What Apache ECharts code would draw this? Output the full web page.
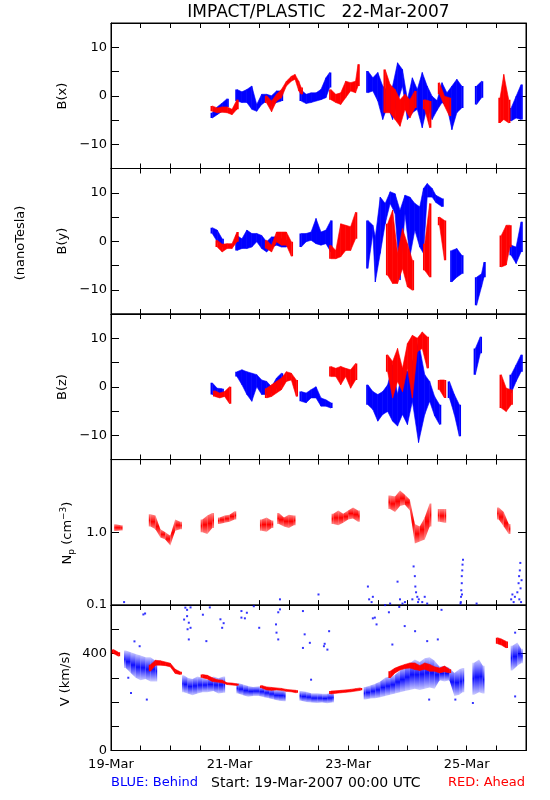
<!DOCTYPE html>
<html>
<head>
<meta charset="utf-8">
<script src="https://cdn.jsdelivr.net/npm/echarts/dist/echarts.min.js"></script>
<style>html,body{margin:0;padding:0;background:#fff;}#c{width:550px;height:800px;}</style>
</head>
<body>
<div id="c"></div>
<script>
// ---------- DATA (hours since 19-Mar-2007 00:00 UTC) ----------
// range items: [hour, low, high]
const xLabelHours = [0, 48, 96, 144];
const xLabelText = ['19-Mar', '21-Mar', '23-Mar', '25-Mar'];
const bTickLabels = [-10, 0, 10];
const vTickLabels = [0, 400];

const bxBlue = [
[41,-4.6,-3.5],[43,-3.9,-2.3],[45,-3.2,-1.5],[47,-2.3,-0.6],
[51,-1.1,1.3],[53,-1.4,0.8],[55,-1.4,1.3],[57,-2.8,2.0],[59,-3.2,-1.8],[61,-1.8,0.3],[63,-1.1,0.3],[65,-2.0,0.0],[67,-1.4,1.0],[69,-1.1,1.0],
[77,-1.1,1.2],[79,-1.6,0.3],[81,-1.4,0.6],[83,-1.1,0.6],[85,-0.8,1.3],[87,-0.4,3.7],[88.5,1.7,4.8],
[104,0.6,5.1],[106,1.0,3.7],[108,-1.1,4.8],[110,-4.9,2.0],[112,-2.1,1.0],[114,-4.9,2.0],[116,-1.4,6.8],[118,2.0,5.4],[120,-4.9,-0.8],[122,-3.5,3.7],[124,-2.8,1.3],[126,-6.6,4.8],[128,-2.1,2.0],[130,-4.9,-0.1],[132,-3.0,-1.0],[134,-1.4,2.7],[136,-2.1,0.6],[138,-7.0,2.0],[140,-3.5,3.4],[142,-2.5,2.0],
[148,-1.8,2.0],[150,-0.4,3.0],
[162,-5.2,-2.5],[164,-4.6,-0.1],[166,-4.9,2.3]
];
const bxRed = [
[41,-3.2,-2.1],[43,-3.5,-2.5],[45,-3.4,-2.3],[47,-3.5,-2.3],[49,-3.9,-2.8],[51,-2.8,-0.8],
[63,-1.5,0.0],[65,-3.3,-1.1],[67,-1.1,0.3],[69,-0.4,1.3],[71,2.0,3.0],[73,3.0,4.0],[74.5,3.4,4.4],[76,1.0,3.0],[77,0.3,1.7],
[89,-0.8,1.3],[91,-1.4,0.3],[93,-1.8,0.6],[95,-0.4,3.0],[97,1.0,2.7],[99,0.6,3.0],[100,2.0,6.5],
[111,-3.5,5.4],[113,-3.5,2.3],[115,-4.9,1.3],[117,-6.3,-0.8],[119,-2.8,0.3],[121,-4.6,-0.8],[123,-2.5,1.0],
[127,-2.8,-0.8],[129,-6.6,-1.1],
[133,0.3,2.7],[135,-2.1,-0.1],[137,-4.2,-0.4],
[157.5,-5.6,-0.4],[159,-4.9,4.4],[161,-5.6,-0.8]
];
const byBlue = [
[41,1.6,2.8],[43,-0.1,2.3],[45,-1.2,0.5],
[51,-1.9,1.2],[53,-1.5,0.5],[55,-1.5,2.3],[57,-1.2,1.6],[59,-0.1,1.6],[61,-1.5,1.2],[63,-2.2,-0.1],[65,-1.2,0.9],[67,-0.8,0.9],[69,-1.2,0.5],[71,-1.2,0.2],
[77,-1.2,1.6],[79,-0.1,1.6],[81,0.2,1.9],[83,-0.5,4.7],[85,-0.8,1.9],[87,-0.5,2.3],[89,-2.2,4.3],
[104,-5.6,4.3],[106,1.6,3.3],[107,-8.4,0.9],[109,-2.5,9.1],[111,3.6,7.8],[113,7.8,10.2],[115,5.7,9.8],[117,-8.0,6.4],[119,5.7,9.5],[121,-3.2,9.1],[123,2.3,7.8],[125,-1.2,7.1],[126.5,-2.5,10.9],[128,9.1,11.9],[130,9.1,10.9],[131.5,8.0,9.5],[134,7.1,8.8],
[138,-8.4,-1.9],[140,-7.4,-1.5],[142,-6.7,-2.9],
[148,-13.2,-7.4],[150,-9.4,-6.7],[151,-7.4,-4.3],
[162,-2.9,-0.8],[164,-4.6,-1.2],[166,-2.2,4.0]
];
const byRed = [
[43,-1.2,0.2],[45,-2.2,-0.6],[47,-1.5,-0.5],[49,-1.5,-0.5],[51,-0.1,1.9],
[63,-1.5,0.2],[65,-2.2,-0.8],[67,-0.1,1.9],[69,-0.8,1.9],[71,-0.8,1.9],[73,-3.1,-0.1],
[89,-3.6,-0.8],[91,-3.6,-1.9],[93,-3.2,3.6],[95,-1.9,3.3],[97,-1.9,3.0],[99,0.5,6.0],
[112,-7.0,3.6],[114,-8.7,6.4],[116,-8.7,-2.5],[118,-5.6,2.6],[120,-9.4,-0.5],[122,-10.1,-3.9],
[127,-6.0,-0.5],[129,-7.4,7.8],
[133,3.3,5.0],[135,-3.9,4.3],
[158,-5.3,1.2],[160,-4.9,3.3],[161.5,-1.2,3.3]
];
const bzBlue = [
[41,-1.6,0.8],[43,-2.0,-0.3],[45,-2.0,-0.4],
[51,2.1,3.1],[53,0.4,3.5],[55,-1.6,3.1],[57,-3.0,2.8],[59,0.0,2.5],[61,-1.6,1.4],[63,-1.6,1.1],[65,-1.3,0.0],[67,-0.3,1.8],[69,0.4,2.8],
[77,-3.0,-1.0],[79,-3.3,-1.3],[81,-2.3,-0.6],[83,-2.3,0.0],[85,-4.0,-2.3],[87,-4.0,-2.7],[89,-4.4,-3.3],
[104,-3.7,0.4],[106,-4.7,-1.0],[108,-7.1,-1.6],[110,-5.7,-1.0],[112,-5.1,0.4],[114,-7.1,4.5],[116,-8.1,-1.6],[118,-5.7,3.8],[120,-7.8,3.1],[122,-3.0,5.2],[124.5,-11.5,9.3],[127,-5.7,2.5],[129,-3.0,1.1],[131,-6.0,-2.0],[133,-7.8,-3.7],
[137,-2.3,1.1],[139,-5.7,-1.6],[141,-10.2,-3.7],
[147.5,2.5,7.9],[149.5,6.9,10.3],
[162,-1.3,2.5],[164,1.1,4.5],[166,3.1,6.6]
];
const bzRed = [
[42,-2.0,-0.8],[44,-2.3,-1.3],[46,-2.0,-1.0],[48,-3.5,0.0],
[63,-2.3,-0.3],[65,-2.0,0.4],[67,-1.3,1.1],[69,-0.6,1.8],[71,1.1,3.1],[73,1.4,2.8],[75,-2.0,1.4],
[89,2.1,4.2],[91,2.1,3.8],[93,0.4,4.2],[95,2.1,3.8],[97,-0.3,3.5],[99,1.4,4.8],
[112,3.1,6.6],[114,-2.3,5.2],[116,1.1,7.9],[118,-1.0,3.8],[120,3.8,8.9],[122,-2.3,10.6],[124,7.2,10.0],[126,7.9,11.3],[128,3.8,10.3],
[133,-0.6,1.4],[135,-2.3,1.4],
[158,-4.4,2.5],[160,-5.1,-0.3],[162,-3.7,-0.6]
];
const npRed = [
[2,1.04,1.29],[4,1.06,1.25],
[16,1.2,1.78],[18,1.1,1.7],[20,0.85,1.1],[22,0.8,1.0],[24,0.66,0.9],[26,1.05,1.5],[28,1.1,1.4],
[37,1.0,1.5],[39,0.95,1.7],[41,1.15,1.85],[44,1.3,1.6],[46,1.35,1.7],[48,1.4,1.75],[50,1.5,1.95],
[61,1.05,1.5],[63,1.02,1.6],[65,1.15,1.45],[68,1.3,1.85],[70,1.2,1.6],[72,1.15,1.75],[74,1.25,1.7],
[90,1.3,1.8],[92,1.25,2.0],[94,1.35,1.8],[96,1.5,2.0],[98,1.55,2.2],[100,1.4,2.0],
[113,2.1,3.2],[115,1.9,3.1],[117,2.3,3.75],[119,2.4,3.3],[121,2.0,2.8],[123,0.7,1.3],[125,0.75,1.2],[127,0.8,1.6],[129,1.2,2.5],
[133,1.4,2.1],[135,1.35,2.1],
[157,1.5,2.2],[159,1.2,1.9],[161,0.95,1.3]
];
// blue proton density: scattered points [hour, Np]
const npBlue = [
[5.3,0.11],[68.4,0.12],[84,0.14],[104,0.18],[104.5,0.12],[105.5,0.11],[106,0.13],[111,0.10],[113,0.105],[116,0.21],[117,0.12],[118,0.105],[119,0.11],
[122,0.12],[122.5,0.34],[123,0.25],[123.2,0.18],[123.5,0.15],[124,0.13],[124.3,0.11],[124.6,0.12],[126,0.11],[127,0.13],[128,0.105],
[141.5,0.105],[141.6,0.11],[141.7,0.13],[141.8,0.16],[142,0.2],[142,0.25],[142.1,0.14],[142.2,0.3],[142.3,0.36],[142.5,0.42],
[148,0.105],[162,0.12],[162.5,0.14],[163,0.11],[163.5,0.13],
[164.5,0.15],[165,0.2],[165.2,0.25],[165.3,0.12],[165.5,0.3],[165.7,0.38],[165.8,0.17],[166,0.11],[166.2,0.22]
];
const vRed = [
[1,400,416],[3,389,405],
[16,327,354],[18,352,372],[20,352,370],[22,350,365],[24,345,360],[26,318,335],[28,313,325],
[37,300,313],[39,295,310],[41,285,300],[43,282,292],[45,279,290],[47,272,279],[49,270,278],[51,268,275],
[61,258,268],[63,250,262],[65,248,260],[67,250,258],[69,248,256],[71,244,252],[73,242,250],[75,238,248],
[89,233,245],[91,236,246],[93,238,248],[95,240,250],[97,242,252],[99,245,255],[101,248,258],
[113,299,327],[115,320,340],[117,332,348],[119,338,355],[121,340,361],[123,334,361],[125,330,350],[127,335,361],[129,327,355],[131,327,345],
[133,320,340],[135,325,348],[137,320,335],
[156.5,440,465],[158,435,460],[160,423,450]
];
const vBlue = [
[6,340,412],[8,320,405],[10,300,398],[12,290,392],[14,295,385],[16,285,385],[18,285,370],
[29.5,240,310],[31,235,300],[33,228,295],[35,235,305],[37,240,300],[39,240,292],
[41.5,245,305],[43.5,235,298],[45.5,238,305],
[51.5,235,278],[53.5,228,272],[55.5,222,266],[57.5,225,262],
[60,225,265],[62,220,260],[64,215,256],
[66,210,250],[68,205,250],[70,203,246],
[77,205,245],[79,200,242],[81,198,236],
[83.5,196,236],[85.5,198,234],[87.5,195,234],[89.5,198,238],
[103,210,262],[105,214,268],[107,215,275],[109,220,285],[111,225,300],[113,230,306],[115,235,312],[117,240,330],[119,245,345],[121,250,360],[123,255,375],[125,250,365],[127,255,380],[129,260,385],[131,255,370],
[133,290,345],[135,285,350],[137,290,340],
[139,225,320],[141,230,335],[142.3,240,340],
[147,230,362],[149,240,375],[150.5,235,350],
[162.5,330,432],[164.5,350,445],[166,360,420]
];
// blue velocity outliers [hour, V]
const vBlueDots = [
[13.1,561],[8.1,237],[14.5,210],[11.6,430],[13.8,565],[9.5,450],[7,300],
[30.1,589],[30.8,554],[31.5,527],[32.2,506],[31.5,458],[30.8,580],[32.2,590],[29.6,540],[31.0,500],
[38.6,451],[37.2,560],[40,590],[44.3,541],[45,506],[45.6,525],
[52.8,548],[55,568],[52.8,575],[54.2,545],[57.8,595],[60,506],
[67,486],[67.7,458],[68.4,582],[67.7,570],[66.8,520],
[77.7,423],[78.4,479],[80.5,444],[81,292],[77.7,575],[86.2,430],[87.6,416],[88.3,492],[86.5,440],
[106.8,548],[107.5,520],[106,545],[112.5,570],[113.9,437],[116.7,592],[118.9,513],[123.1,492],[128,451],[128.8,210],[132.3,458],[133.8,580],
[139.4,210],[146.5,196],[163.6,486],[163.6,223]
];

// ---------- LAYOUT ----------
const FONT = 'DejaVu Sans';
const gridLeft = 111, gridW = 415, gridH = 145.5;
const tops = [23, 168.5, 314, 459.6, 605];
const MAXGAP = 2.6;   // hours: consecutive samples closer than this are joined
const EDGE = 0.7;     // hours added at both ends of a run

const chart = echarts.init(document.getElementById('c'), null, {renderer: 'canvas'});

function bandRender(data, color, fade) {
  return function (params, api) {
    const i = params.dataIndex;
    const d = data[i], prev = data[i - 1], next = data[i + 1];
    const joinNext = next && (next[0] - d[0]) <= MAXGAP;
    const joinPrev = prev && (d[0] - prev[0]) <= MAXGAP;
    const pts = [];
    if (joinNext) {
      pts.push(api.coord([d[0], d[2]]), api.coord([next[0], next[2]]), api.coord([next[0], next[1]]), api.coord([d[0], d[1]]));
    }
    const children = [];
    function makeFill() {
      if (!fade) return color;
      return new echarts.graphic.LinearGradient(0, 0, 0, 1, [
        {offset: 0, color: fade[0]}, {offset: 0.5, color: fade[1]}, {offset: 1, color: fade[0]}]);
    }
    if (pts.length) {
      children.push({type: 'polygon', shape: {points: pts}, style: {fill: makeFill(), stroke: fade ? null : color, lineWidth: fade ? 0 : 0.6}});
    }
    // end caps so each run has visible width at its edges
    const x0 = joinPrev ? d[0] : d[0] - EDGE;
    const x1 = joinNext ? d[0] : d[0] + EDGE;
    if (x1 > x0) {
      const p1 = api.coord([x0, d[2]]), p2 = api.coord([x1, d[1]]);
      children.push({type: 'rect', shape: {x: p1[0], y: p1[1], width: p2[0] - p1[0], height: Math.max(p2[1] - p1[1], 1.5)},
        style: {fill: makeFill()}});
    }
    return {type: 'group', children: children};
  };
}
function bandSeries(data, idx, color, fade) {
  return {type: 'custom', xAxisIndex: idx, yAxisIndex: idx, data: data, clip: true,
    renderItem: bandRender(data, color, fade), encode: {x: 0, y: [1, 2]}, silent: true};
}

const grids = [], xAxes = [], yAxes = [];
for (let i = 0; i < 5; i++) {
  grids.push({left: gridLeft, top: tops[i], width: gridW, height: gridH, show: true, borderColor: '#000', borderWidth: 1, backgroundColor: 'transparent'});
}
const axLine = {show: true, onZero: false, lineStyle: {color: '#000', width: 1}};
for (let i = 0; i < 5; i++) {
  xAxes.push({type: 'value', gridIndex: i, min: 0, max: 168, interval: 12, position: 'bottom',
    axisLine: axLine, splitLine: {show: false},
    axisTick: {inside: true, length: 5, lineStyle: {color: '#000'}},
    axisLabel: {show: i === 4, color: '#000', fontFamily: FONT, fontSize: 13, margin: 8,
      formatter: function (v) { const k = xLabelHours.indexOf(v); return k >= 0 ? xLabelText[k] : ''; }}});
}
for (let i = 0; i < 5; i++) {
  xAxes.push({type: 'value', gridIndex: i, min: 0, max: 168, interval: 12, position: 'top',
    axisLine: axLine, splitLine: {show: false},
    axisTick: {inside: true, length: 5, lineStyle: {color: '#000'}}, axisLabel: {show: false}});
}
const bFmt = function (v) { return bTickLabels.indexOf(v) >= 0 ? (v < 0 ? '\u2212' + Math.abs(v) : String(v)) : ''; };
const npFmt = function (v) { if (Math.abs(v - 0.1) < 1e-9) return '0.1'; if (Math.abs(v - 1) < 1e-9) return '1.0'; return ''; };
const vFmt = function (v) { return vTickLabels.indexOf(v) >= 0 ? String(v) : ''; };
function yAx(i, pos) {
  const base = {gridIndex: i, position: pos, axisLine: axLine, splitLine: {show: false},
    axisTick: {inside: true, length: 8, lineStyle: {color: '#000'}},
    axisLabel: {show: pos === 'left', color: '#000', fontFamily: FONT, fontSize: 13, margin: 4}};
  if (i < 3) { Object.assign(base, {type: 'value', min: -15, max: 15, interval: 5}); base.axisLabel.formatter = bFmt; }
  else if (i === 3) { Object.assign(base, {type: 'log', logBase: 10, min: 0.1, max: 10}); base.axisLabel.formatter = npFmt; }
  else { Object.assign(base, {type: 'value', min: 0, max: 600, interval: 100}); base.axisLabel.formatter = vFmt; }
  return base;
}
for (let i = 0; i < 5; i++) yAxes.push(yAx(i, 'left'));
for (let i = 0; i < 5; i++) yAxes.push(yAx(i, 'right'));

const BLUE = '#0000ff', RED = '#ff0000';
const series = [
  bandSeries(bxBlue, 0, BLUE), bandSeries(bxRed, 0, RED),
  bandSeries(byBlue, 1, BLUE), bandSeries(byRed, 1, RED),
  bandSeries(bzBlue, 2, BLUE), bandSeries(bzRed, 2, RED),
  {type: 'scatter', xAxisIndex: 3, yAxisIndex: 3, data: npBlue, symbol: 'rect', symbolSize: 2, itemStyle: {color: BLUE}, silent: true, clip: true},
  bandSeries(npRed, 3, RED, ['rgba(255,0,0,0.45)', 'rgba(255,0,0,1)']),
  bandSeries(vBlue, 4, BLUE, ['rgba(0,0,255,0.2)', 'rgba(0,0,255,0.95)']),
  {type: 'scatter', xAxisIndex: 4, yAxisIndex: 4, data: vBlueDots, symbol: 'rect', symbolSize: 2, itemStyle: {color: BLUE}, silent: true, clip: true},
  bandSeries(vRed, 4, RED)
];

function vtext(x, y, text) {
  return {type: 'text', x: x, y: y, rotation: Math.PI / 2,
    style: {text: text, fill: '#000', fontFamily: FONT, fontSize: 13, align: 'center', verticalAlign: 'middle',
      textAlign: 'center', textVerticalAlign: 'middle'}};
}
const graphics = [
  {type: 'text', x: 318.5, y: 12.5, style: {text: 'IMPACT/PLASTIC   22-Mar-2007', fill: '#000', fontFamily: FONT, fontSize: 17,
    align: 'center', verticalAlign: 'middle', textAlign: 'center', textVerticalAlign: 'middle'}},
  vtext(63, 96, 'B(x)'), vtext(63, 241, 'B(y)'), vtext(63, 387, 'B(z)'),
  vtext(21, 243, '(nanoTesla)'),
  {type: 'text', x: 68, y: 533, rotation: Math.PI / 2,
    style: {text: 'N{sub|p} (cm{sup|\u22123})', fill: '#000', fontFamily: FONT, fontSize: 13,
      align: 'center', verticalAlign: 'middle', textAlign: 'center', textVerticalAlign: 'middle',
      rich: {sub: {fontSize: 9, fontFamily: FONT, padding: [8, 0, 0, 0], fill: '#000'},
             sup: {fontSize: 9, fontFamily: FONT, padding: [0, 0, 9, 0], fill: '#000'}}}},
  vtext(66, 679, 'V (km/s)'),
  {type: 'text', x: 111, y: 783, style: {text: 'BLUE: Behind', fill: BLUE, fontFamily: FONT, fontSize: 13,
    align: 'left', verticalAlign: 'middle', textAlign: 'left', textVerticalAlign: 'middle'}},
  {type: 'text', x: 211, y: 783, style: {text: 'Start: 19-Mar-2007 00:00 UTC', fill: '#000', fontFamily: FONT, fontSize: 14,
    align: 'left', verticalAlign: 'middle', textAlign: 'left', textVerticalAlign: 'middle'}},
  {type: 'text', x: 525, y: 783, style: {text: 'RED: Ahead', fill: RED, fontFamily: FONT, fontSize: 13,
    align: 'right', verticalAlign: 'middle', textAlign: 'right', textVerticalAlign: 'middle'}}
];

chart.setOption({
  animation: false,
  backgroundColor: '#fff',
  grid: grids, xAxis: xAxes, yAxis: yAxes,
  series: series,
  graphic: graphics
});
</script>
</body>
</html>
